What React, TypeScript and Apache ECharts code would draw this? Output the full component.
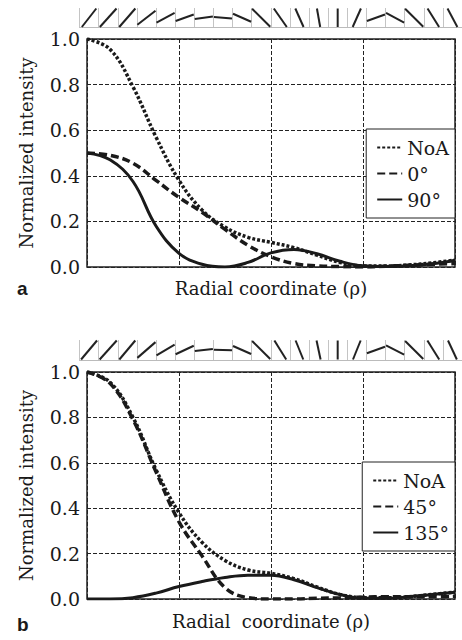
import React, { useEffect, useRef } from 'react';
import * as echarts from 'echarts';

// radial coordinate samples (x axis runs 0..4, four grid cells, no tick labels)
const rho = [0, 0.25, 0.5, 0.75, 1, 1.25, 1.5, 1.75, 2, 2.25, 2.5, 2.75, 3, 3.25, 3.5, 3.75, 4];

// panel a
const noaA = [1.0, 0.955, 0.79, 0.57, 0.38, 0.25, 0.175, 0.13, 0.108, 0.085, 0.052, 0.02, 0.005, 0.004, 0.009, 0.018, 0.03];
const deg0A = [0.5, 0.49, 0.455, 0.38, 0.305, 0.24, 0.165, 0.095, 0.045, 0.015, 0.005, 0.002, 0.0, 0.003, 0.008, 0.012, 0.015];
const deg90A = [0.5, 0.47, 0.375, 0.18, 0.06, 0.012, 0.0, 0.02, 0.062, 0.077, 0.058, 0.025, 0.005, 0.002, 0.005, 0.014, 0.03];

// panel b
const noaB = [1.0, 0.955, 0.8, 0.57, 0.38, 0.25, 0.17, 0.128, 0.113, 0.09, 0.053, 0.02, 0.006, 0.005, 0.01, 0.02, 0.03];
const deg45B = [1.0, 0.95, 0.79, 0.56, 0.34, 0.19, 0.05, 0.006, 0.0, 0.0, 0.003, 0.005, 0.008, 0.01, 0.01, 0.01, 0.012];
const deg135B = [0.0, 0.0, 0.006, 0.026, 0.055, 0.077, 0.095, 0.105, 0.105, 0.085, 0.05, 0.02, 0.003, 0.003, 0.01, 0.02, 0.03];

// orientation glyphs above each panel (degrees from horizontal, 20 cells)
const anglesA = [52, 48, 49, 38, 28, 20, 8, -5, -24, -45, -55, -66, -80, 90, 66, 20, -28, -45, -58, -62];
const anglesB = [50, 48, 50, 41, 31, 25, 7, -2, -24, -45, -58, -68, -78, 90, 68, 20, -27, -45, -58, -65];

const legendA = ['NoA', '0°', '90°'];
const legendB = ['NoA', '45°', '135°'];
const panelLetters = ['a', 'b'];
const xName = ['Radial coordinate (ρ)', 'Radial  coordinate (ρ)'];
const yName = 'Normalized intensity';

const SERIF = 'DejaVu Serif';
const INK = '#1a1a1a';

const pts = (arr: number[]) => rho.map((x, i) => [x, arr[i]]);

const dotted = { color: INK, width: 3.5, type: [3, 2] as number[], cap: 'butt' as const };
const dashed = { color: INK, width: 3.5, type: [8, 4] as number[], cap: 'butt' as const };
const solid = { color: INK, width: 3, type: 'solid' as const };

function glyphRender(params: any, api: any) {
  const i = api.value(0) as number;
  const ang = api.value(1) as number;
  const c = api.coord([i + 0.5, 0.5]);
  const s = api.size([1, 1]);
  const hw = s[0] / 2 - 0.5;
  const hh = s[1] / 2 - 0.5;
  const rad = (ang * Math.PI) / 180;
  const dx = Math.cos(rad);
  const dy = -Math.sin(rad);
  const tx = Math.abs(dx) > 1e-6 ? hw / Math.abs(dx) : Infinity;
  const ty = Math.abs(dy) > 1e-6 ? hh / Math.abs(dy) : Infinity;
  const t = Math.min(tx, ty);
  return {
    type: 'line',
    shape: { x1: c[0] - dx * t, y1: c[1] - dy * t, x2: c[0] + dx * t, y2: c[1] + dy * t },
    style: { stroke: '#222', lineWidth: 2 },
  };
}

export default function App() {
  const ref = useRef<HTMLDivElement>(null);
  useEffect(() => {
    if (!ref.current) return;
    const chart = echarts.init(ref.current, undefined, { renderer: 'svg' });

    const stripX = (gi: number) => ({
      type: 'value', gridIndex: gi, min: 0, max: 20, interval: 1,
      axisLabel: { show: false }, axisTick: { show: false },
      axisLine: { show: true, lineStyle: { color: '#bbb', width: 1 } },
      splitLine: { show: true, lineStyle: { color: '#c4c4c4', width: 1 } },
    });
    const stripY = (gi: number) => ({
      type: 'value', gridIndex: gi, min: 0, max: 1, show: false,
      splitLine: { show: false },
    });
    const mainX = (gi: number, name: string, gap: number) => ({
      type: 'value', gridIndex: gi, min: 0, max: 4, interval: 1,
      name, nameLocation: 'middle', nameGap: gap,
      nameTextStyle: { fontFamily: SERIF, fontSize: 18, color: INK },
      axisLabel: { show: false }, axisTick: { show: false },
      axisLine: { show: false },
      splitLine: { show: true, lineStyle: { color: '#222', width: 1, type: [4, 2] } },
    });
    const mainY = (gi: number) => ({
      type: 'value', gridIndex: gi, min: 0, max: 1, interval: 0.2,
      name: yName, nameLocation: 'middle', nameGap: 52,
      nameTextStyle: { fontFamily: SERIF, fontSize: 18, color: INK },
      axisLabel: {
        fontFamily: SERIF, fontSize: 19, color: INK, margin: 7,
        formatter: (v: number) => v.toFixed(1),
      },
      axisTick: { show: false },
      axisLine: { show: false },
      splitLine: { show: true, lineStyle: { color: '#222', width: 1, type: [4, 2] } },
    });

    const legendCommon = {
      orient: 'vertical', right: 7,
      itemWidth: 25, itemHeight: 14, itemGap: 7,
      padding: [9, 6, 9, 10],
      backgroundColor: '#fff', borderColor: '#222', borderWidth: 1,
      borderRadius: 0,
      itemStyle: { color: 'transparent', borderWidth: 0, opacity: 0 },
      textStyle: { fontFamily: SERIF, fontSize: 19, color: INK },
    };

    const line = (name: string, data: number[], style: any, xi: number, yi: number) => ({
      type: 'line', name, data: pts(data), xAxisIndex: xi, yAxisIndex: yi,
      showSymbol: false, symbol: 'none', smooth: 0.4,
      lineStyle: style, itemStyle: { color: INK },
      z: 3,
    });

    chart.setOption({
      animation: false,
      backgroundColor: '#fff',
      grid: [
        { left: 79.5, width: 382.5, top: 8, height: 19.5 },
        { left: 87, width: 368, top: 39, height: 228, show: true, borderColor: '#222', borderWidth: 1.5, backgroundColor: 'transparent' },
        { left: 79.5, width: 382.5, top: 340, height: 20 },
        { left: 87, width: 368, top: 372, height: 227, show: true, borderColor: '#222', borderWidth: 1.5, backgroundColor: 'transparent' },
      ],
      xAxis: [stripX(0), mainX(1, xName[0], 12), stripX(2), mainX(3, xName[1], 13)],
      yAxis: [stripY(0), mainY(1), stripY(2), mainY(3)],
      legend: [
        { ...legendCommon, top: 129, data: legendA },
        { ...legendCommon, top: 462, data: legendB },
      ],
      graphic: [
        { type: 'text', x: 17, y: 288, style: { text: panelLetters[0], font: 'bold 19px Liberation Sans', fill: INK, verticalAlign: 'middle' } },
        { type: 'text', x: 17, y: 624, style: { text: panelLetters[1], font: 'bold 19px Liberation Sans', fill: INK, verticalAlign: 'middle' } },
      ],
      series: [
        { type: 'custom', xAxisIndex: 0, yAxisIndex: 0, renderItem: glyphRender, data: anglesA.map((a, i) => [i, a]), clip: false },
        { type: 'custom', xAxisIndex: 2, yAxisIndex: 2, renderItem: glyphRender, data: anglesB.map((a, i) => [i, a]), clip: false },
        line(legendA[0], noaA, dotted, 1, 1),
        line(legendA[1], deg0A, dashed, 1, 1),
        line(legendA[2], deg90A, solid, 1, 1),
        line(legendB[0], noaB, dotted, 3, 3),
        line(legendB[1], deg45B, dashed, 3, 3),
        line(legendB[2], deg135B, solid, 3, 3),
      ],
    });
    return () => chart.dispose();
  }, []);

  return (
    <div
      ref={ref}
      style={{ position: 'fixed', left: 0, top: 0, width: 462, height: 640 }}
    />
  );
}
